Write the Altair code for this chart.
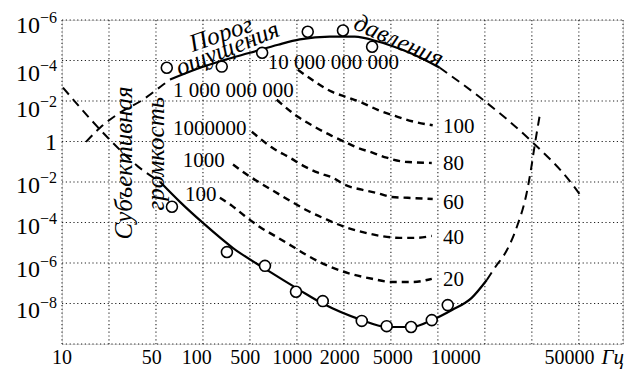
import altair as alt
import pandas as pd

# ---- axis units: x = printed grid column index, y = printed grid row index (0 = bottom)
grid_x = [0, 1, 2, 3, 4, 5, 6, 7, 8, 9, 10, 11, 11.94]
grid_y = [0, 1, 2, 3, 4, 5, 6, 7, 8]

xtick_pos = [0.0, 1.91, 2.87, 3.90, 4.90, 5.91, 7.04, 8.38, 10.80]
xtick_lab = ["10", "50", "100", "500", "1000", "2000", "5000", "10000", "50000"]

ytick_pos = [7.91, 6.72, 5.83, 4.97, 3.96, 2.94, 1.88, 0.87]
ytick_base = ["10", "10", "10", "1", "10", "10", "10", "10"]
ytick_exp = ["−6", "−4", "−2", "", "−2", "−4", "−6", "−8"]

# ---- threshold of hearing (lower curve)
low_dl_x = [0.02, 1.02, 1.62, 2.09]
low_dl_y = [6.33, 5.04, 4.38, 4.00]
low_s_x = [2.09, 2.51, 3.00, 3.64, 4.36, 5.06, 5.53, 6.38, 6.91, 7.45, 7.87, 8.30, 8.72, 9.04]
low_s_y = [4.00, 3.51, 2.99, 2.37, 1.83, 1.33, 1.01, 0.59, 0.42, 0.42, 0.59, 0.84, 1.14, 1.58]
low_dr_x = [9.04, 9.21, 9.47, 9.68, 9.89, 9.98, 10.06, 10.17]
low_dr_y = [1.58, 1.88, 2.32, 2.89, 3.73, 4.30, 4.90, 5.66]
low_pts_x = [2.34, 3.51, 4.32, 4.98, 5.55, 6.38, 6.91, 7.43, 7.87, 8.21]
low_pts_y = [3.39, 2.27, 1.93, 1.29, 1.06, 0.57, 0.44, 0.42, 0.59, 0.96]

# ---- threshold of feeling (upper curve)
up_dl_x = [0.51, 0.81, 1.23, 1.72, 2.15, 2.30]
up_dl_y = [4.99, 5.34, 5.71, 6.03, 6.40, 6.53]
up_s_x = [2.30, 2.94, 3.47, 4.00, 4.60, 5.06, 5.70, 6.23, 6.72, 7.23, 7.72, 8.04]
up_s_y = [6.53, 6.82, 7.02, 7.19, 7.39, 7.52, 7.59, 7.59, 7.47, 7.27, 7.02, 6.82]
up_dr_x = [8.04, 8.96, 9.96, 10.87, 11.06]
up_dr_y = [6.82, 6.03, 5.04, 3.93, 3.63]
up_pts_x = [2.23, 3.40, 4.26, 5.23, 5.98, 6.60]
up_pts_y = [6.82, 6.85, 7.19, 7.71, 7.74, 7.34]

# ---- equal-loudness curves
c100_x = [5.02, 5.38, 5.74, 6.02, 6.38, 6.72, 7.09, 7.45, 7.89]
c100_y = [6.77, 6.48, 6.23, 6.11, 5.96, 5.78, 5.63, 5.50, 5.40]
c80_x = [4.57, 5.02, 5.38, 5.74, 6.02, 6.28, 6.62, 6.91, 7.30, 7.87]
c80_y = [6.03, 5.61, 5.36, 5.14, 4.99, 4.85, 4.72, 4.60, 4.50, 4.47]
c60_x = [4.04, 4.47, 4.85, 5.17, 5.45, 5.77, 6.02, 6.38, 6.70, 7.02, 7.36, 7.89]
c60_y = [5.24, 4.85, 4.60, 4.38, 4.23, 4.10, 3.93, 3.81, 3.73, 3.63, 3.61, 3.58]
c40_x = [3.64, 3.94, 4.21, 4.53, 4.89, 5.23, 5.60, 6.02, 6.38, 6.77, 7.19, 7.51, 7.87]
c40_y = [4.43, 4.18, 3.98, 3.76, 3.51, 3.29, 3.09, 2.89, 2.77, 2.67, 2.62, 2.62, 2.67]
c20_x = [3.36, 3.62, 3.89, 4.21, 4.53, 4.89, 5.23, 5.66, 6.09, 6.60, 7.02, 7.45, 7.87]
c20_y = [3.61, 3.41, 3.16, 2.89, 2.67, 2.42, 2.18, 1.93, 1.75, 1.61, 1.53, 1.53, 1.61]

# ---- curve labels
left_lab = ["10 000 000 000", "1 000 000 000", "1000000", "1000", "100"]
left_x = [4.38, 2.36, 2.36, 2.57, 2.62]
left_y = [6.95, 6.25, 5.30, 4.51, 3.68]
right_lab = ["100", "80", "60", "40", "20"]
right_x = [8.11, 8.11, 8.11, 8.11, 8.11]
right_y = [5.36, 4.45, 3.49, 2.62, 1.58]

rot_lab = ["Порог", "ощущения", "давления", "Субъективная", "громкость"]
rot_x = [3.38, 3.52, 7.17, 1.32, 1.99]
rot_y = [7.66, 7.30, 7.49, 4.47, 4.70]
rot_angle = [341, 338, 24, 270, 270]

unit_lab = "Гц"
unit_x = 11.72

# ---------------------------------------------------------------
def rows(xs, ys, name):
    return [{"x": a, "y": b, "s": name} for a, b in zip(xs, ys)]

solid_df = pd.DataFrame(rows(low_s_x, low_s_y, "low") + rows(up_s_x, up_s_y, "up"))
longdash_df = pd.DataFrame(
    rows(low_dl_x, low_dl_y, "lowL") + rows(low_dr_x, low_dr_y, "lowR")
    + rows(up_dl_x, up_dl_y, "upL") + rows(up_dr_x, up_dr_y, "upR")
)
loud_df = pd.DataFrame(
    rows(c100_x, c100_y, "100") + rows(c80_x, c80_y, "80") + rows(c60_x, c60_y, "60")
    + rows(c40_x, c40_y, "40") + rows(c20_x, c20_y, "20")
)
pts_df = pd.DataFrame(rows(low_pts_x, low_pts_y, "low") + rows(up_pts_x, up_pts_y, "up"))

xs = alt.Scale(domain=[0, 11.94], nice=False, zero=False)
ys = alt.Scale(domain=[0, 8], nice=False, zero=False)
X = alt.X("x:Q", scale=xs, axis=None)
Y = alt.Y("y:Q", scale=ys, axis=None)

SERIF = "Liberation Serif"
grid_color = "#222222"
grid_dash = [1.2, 2.6]

vgrid = alt.Chart(pd.DataFrame({"x": grid_x})).mark_rule(
    color=grid_color, strokeWidth=1.1, strokeDash=grid_dash
).encode(x=X, y=alt.value(0), y2=alt.value(324))
hgrid = alt.Chart(pd.DataFrame({"y": grid_y})).mark_rule(
    color=grid_color, strokeWidth=1.1, strokeDash=grid_dash
).encode(y=Y, x=alt.value(0), x2=alt.value(561))

solid = alt.Chart(solid_df).mark_line(
    color="black", strokeWidth=2.2, interpolate="monotone"
).encode(x=X, y=Y, detail="s:N")
longdash = alt.Chart(longdash_df).mark_line(
    color="black", strokeWidth=2.0, strokeDash=[9, 6], interpolate="monotone"
).encode(x=X, y=Y, detail="s:N")
loud = alt.Chart(loud_df).mark_line(
    color="black", strokeWidth=2.4, strokeDash=[7, 5], interpolate="monotone"
).encode(x=X, y=Y, detail="s:N")
points = alt.Chart(pts_df).mark_point(
    shape="circle", filled=True, fill="white", stroke="black", strokeWidth=1.6,
    size=120, opacity=1
).encode(x=X, y=Y)

left_txt = alt.Chart(pd.DataFrame({"x": left_x, "y": left_y, "t": left_lab})).mark_text(
    align="left", baseline="middle", font=SERIF, fontSize=21, color="black"
).encode(x=X, y=Y, text="t:N")
right_txt = alt.Chart(pd.DataFrame({"x": right_x, "y": right_y, "t": right_lab})).mark_text(
    align="left", baseline="middle", font=SERIF, fontSize=21, color="black"
).encode(x=X, y=Y, text="t:N")

rot_layers = []
for t, a, b, ang in zip(rot_lab, rot_x, rot_y, rot_angle):
    rot_layers.append(
        alt.Chart(pd.DataFrame({"x": [a], "y": [b], "t": [t]})).mark_text(
            align="center", baseline="middle", font=SERIF, fontStyle="italic",
            fontSize=25, angle=ang, color="black"
        ).encode(x=X, y=Y, text="t:N")
    )

xlab = alt.Chart(pd.DataFrame({"x": xtick_pos, "t": xtick_lab})).mark_text(
    align="center", baseline="middle", font=SERIF, fontSize=20, color="black"
).encode(x=X, y=alt.value(338), text="t:N")
unit_txt = alt.Chart(pd.DataFrame({"x": [unit_x], "t": [unit_lab]})).mark_text(
    align="center", baseline="middle", font=SERIF, fontStyle="italic", fontSize=21, color="black"
).encode(x=X, y=alt.value(338), text="t:N")

ydf = pd.DataFrame({"y": ytick_pos, "b": ytick_base, "e": ytick_exp})
ybase10 = alt.Chart(ydf[ydf["b"] == "10"]).mark_text(
    align="right", baseline="middle", font=SERIF, fontSize=24, color="black", dy=2
).encode(x=alt.value(-22), y=Y, text="b:N")
ybase1 = alt.Chart(ydf[ydf["b"] == "1"]).mark_text(
    align="right", baseline="middle", font=SERIF, fontSize=24, color="black"
).encode(x=alt.value(-5), y=Y, text="b:N")
yexp = alt.Chart(ydf[ydf["e"] != ""]).mark_text(
    align="left", baseline="middle", font=SERIF, fontSize=16, color="black", dy=-6
).encode(x=alt.value(-22), y=Y, text="e:N")

chart = alt.layer(
    vgrid, hgrid, loud, longdash, solid, points, left_txt, right_txt, *rot_layers,
    xlab, unit_txt, ybase10, ybase1, yexp
).properties(
    width=561, height=324,
    autosize=alt.AutoSizeParams(type="none"),
    padding={"left": 62, "top": 20, "right": 5, "bottom": 27},
).configure_view(stroke=None).configure(background="white")

chart.save("out.html", embed_options={"renderer": "svg", "actions": False})
